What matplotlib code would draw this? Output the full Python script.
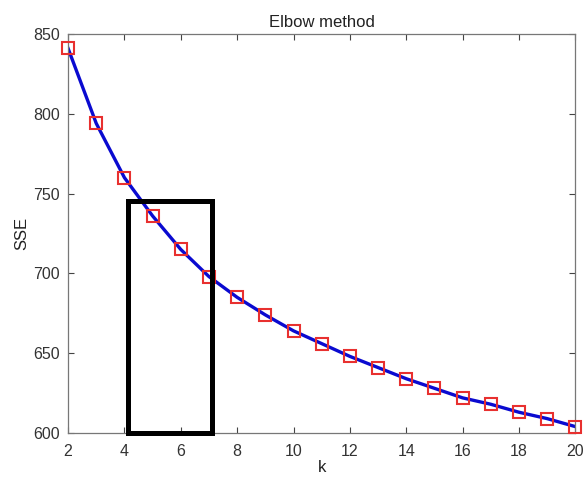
import matplotlib
matplotlib.use("Agg")
import matplotlib.pyplot as plt
from matplotlib.patches import Rectangle

plt.rcParams['font.family'] = ['Liberation Sans', 'DejaVu Sans']

k = [2, 3, 4, 5, 6, 7, 8, 9, 10, 11, 12, 13, 14, 15, 16, 17, 18, 19, 20]
sse = [841, 794, 760, 736, 715, 698, 685, 674, 664, 656, 648, 641, 634, 628, 622, 618, 613, 609, 604]
xticks = [2, 4, 6, 8, 10, 12, 14, 16, 18, 20]
yticks = [600, 650, 700, 750, 800, 850]
box_k = (4.12, 7.09)
box_sse = (600, 745.5)

fig = plt.figure(figsize=(5.87, 4.8), dpi=100)
ax = fig.add_axes([0.116, 0.098, 0.864, 0.831])

ax.plot(k, sse, color='#0a0ad0', lw=2.4, zorder=2)
ax.plot(k, sse, ls='none', marker='s', ms=9, mfc='none', mec='#e8302f', mew=1.5, zorder=3, clip_on=False)

rect = Rectangle((box_k[0], box_sse[0]), box_k[1] - box_k[0], box_sse[1] - box_sse[0],
                 fill=False, ec='black', lw=3.6, zorder=4, clip_on=False)
ax.add_patch(rect)

ax.set_xlim(2, 20)
ax.set_ylim(600, 850)
ax.set_xticks(xticks)
ax.set_yticks(yticks)
ax.tick_params(direction='in', top=True, right=True, length=4, width=0.8,
               colors='#444444', labelsize=11.5, labelcolor='#333333')
ax.tick_params(axis='x', pad=8)
ax.tick_params(axis='y', pad=6)
for s in ax.spines.values():
    s.set_color('#777777')
    s.set_linewidth(0.9)

ax.set_title('Elbow method', fontsize=12, color='#222222', pad=5)
ax.set_xlabel('k', fontsize=12, color='#222222', labelpad=1)
ax.set_ylabel('SSE', fontsize=12, color='#222222', labelpad=3)

fig.savefig('out.png', dpi=100)
